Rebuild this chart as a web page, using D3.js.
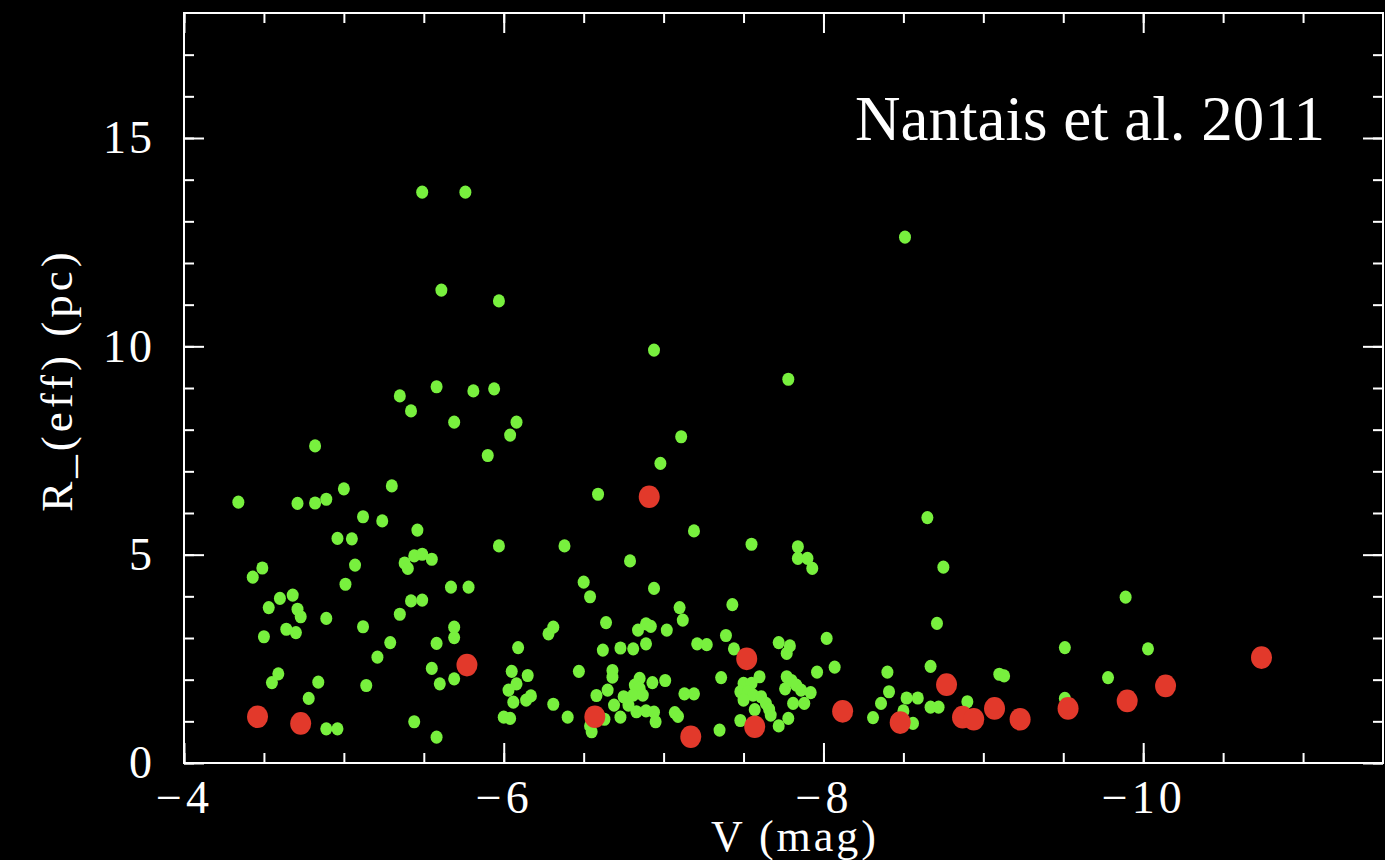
<!DOCTYPE html>
<html>
<head>
<meta charset="utf-8">
<script src="https://cdn.jsdelivr.net/npm/d3@7"></script>
<style>
  html, body { margin: 0; padding: 0; background: #000; }
  svg { display: block; }
</style>
</head>
<body>
<div id="chart"></div>
<script>
// V magnitude vs effective radius
var clusters = [
  [-4.34, 6.26], [-4.71, 6.23], [-4.82, 6.24], [-4.89, 6.33], [-5.00, 6.58], [-5.30, 6.65],
  [-5.12, 5.91], [-5.24, 5.81], [-5.46, 5.59], [-4.96, 5.39], [-5.05, 5.38], [-5.44, 4.97],
  [-5.49, 5.01], [-5.55, 4.89], [-5.07, 4.75], [-5.38, 4.80], [-5.40, 4.67], [-4.49, 4.68],
  [-4.43, 4.46], [-5.01, 4.29], [-5.67, 4.22], [-5.78, 4.22], [-4.60, 3.95], [-4.68, 4.03],
  [-5.42, 3.89], [-5.49, 3.91], [-4.53, 3.73], [-4.71, 3.69], [-4.73, 3.51], [-4.89, 3.47],
  [-5.35, 3.57], [-5.12, 3.27], [-4.64, 3.21], [-4.70, 3.13], [-5.69, 3.26], [-5.69, 3.01],
  [-4.50, 3.03], [-5.29, 2.89], [-5.58, 2.87], [-5.21, 2.54], [-5.55, 2.27], [-4.59, 2.14],
  [-4.55, 1.93], [-4.84, 1.94], [-5.14, 1.86], [-5.60, 1.90], [-5.69, 2.02], [-4.78, 1.55],
  [-4.89, 0.82], [-4.96, 0.82], [-5.44, 0.99], [-5.58, 0.62], [-5.49, 13.70], [-5.76, 13.70],
  [-5.61, 11.35], [-5.97, 11.09], [-5.58, 9.03], [-5.35, 8.81], [-5.81, 8.93], [-5.94, 8.98],
  [-5.42, 8.45], [-5.69, 8.18], [-4.82, 7.61], [-5.90, 7.38], [-8.51, 12.62], [-6.94, 9.91],
  [-7.78, 9.21], [-6.08, 8.18], [-6.04, 7.87], [-7.11, 7.83], [-6.98, 7.19], [-6.59, 6.45],
  [-7.19, 5.57], [-5.97, 5.21], [-6.38, 5.21], [-7.55, 5.25], [-6.79, 4.85], [-6.50, 4.34],
  [-6.54, 3.99], [-6.94, 4.19], [-7.10, 3.73], [-7.12, 3.43], [-7.43, 3.80], [-6.64, 3.37],
  [-6.31, 3.26], [-6.28, 3.10], [-6.84, 3.19], [-6.89, 3.34], [-6.92, 3.28], [-7.02, 3.19],
  [-6.89, 2.86], [-6.09, 2.77], [-6.62, 2.71], [-6.73, 2.76], [-6.81, 2.74], [-7.21, 2.86],
  [-7.27, 2.84], [-7.39, 3.06], [-7.44, 2.74], [-7.72, 2.89], [-7.79, 2.81], [-7.77, 2.63],
  [-6.05, 2.20], [-6.15, 2.10], [-6.08, 1.90], [-6.03, 1.75], [-6.06, 1.46], [-6.14, 1.51],
  [-6.17, 1.61], [-6.47, 2.20], [-6.68, 2.22], [-6.68, 2.06], [-6.65, 1.75], [-6.58, 1.62],
  [-6.31, 1.41], [-6.75, 1.59], [-6.85, 2.03], [-6.82, 1.87], [-6.85, 1.79], [-6.81, 1.63],
  [-6.87, 1.63], [-6.69, 1.39], [-6.78, 1.39], [-6.93, 1.93], [-7.01, 1.98], [-7.13, 1.66],
  [-7.19, 1.66], [-7.36, 2.05], [-7.60, 2.07], [-7.77, 2.07], [-7.80, 1.98], [-7.83, 1.87],
  [-7.50, 1.91], [-7.55, 1.91], [-7.48, 1.71], [-7.53, 1.71], [-7.56, 1.63], [-7.50, 1.51],
  [-7.61, 1.59], [-7.64, 1.43], [-7.66, 1.29], [-7.67, 1.15], [-7.76, 1.78], [-7.81, 1.43],
  [-6.00, 1.10], [-6.04, 1.07], [-6.40, 1.10], [-6.54, 0.89], [-6.55, 0.75], [-6.63, 1.05],
  [-6.73, 1.10], [-6.83, 1.23], [-6.89, 1.25], [-6.94, 1.22], [-6.95, 0.99], [-7.07, 1.21],
  [-7.09, 1.12], [-7.35, 0.79], [-7.48, 1.02], [-7.57, 1.28], [-7.72, 0.89], [-7.78, 1.07],
  [-8.65, 5.89], [-7.84, 5.19], [-7.84, 4.91], [-7.90, 4.91], [-7.93, 4.67], [-8.75, 4.70],
  [-8.71, 3.35], [-8.02, 2.99], [-7.96, 2.18], [-8.07, 2.30], [-8.40, 2.18], [-8.67, 2.32],
  [-9.10, 2.13], [-9.13, 2.09], [-9.51, 2.77], [-8.41, 1.71], [-8.36, 1.43], [-8.52, 1.56],
  [-8.59, 1.56], [-8.67, 1.34], [-8.72, 1.34], [-8.90, 1.47], [-8.31, 1.09], [-8.50, 1.25],
  [-8.56, 0.95], [-9.51, 1.55], [-7.86, 1.75], [-7.92, 1.69], [-7.88, 1.43], [-9.78, 2.05],
  [-9.89, 3.98], [-10.03, 2.74]
];

var highlighted = [
  [-4.46, 1.11], [-4.73, 0.95], [-5.77, 2.35], [-6.57, 1.11], [-6.91, 6.39], [-7.17, 0.63],
  [-7.52, 2.50], [-7.57, 0.87], [-8.12, 1.24], [-8.48, 0.97], [-8.77, 1.88], [-8.87, 1.10],
  [-8.94, 1.05], [-9.07, 1.31], [-9.23, 1.05], [-9.53, 1.31], [-9.90, 1.49], [-10.14, 1.85],
  [-10.74, 2.53]
];

var xDomain = [-4, -11.5];
var yDomain = [0, 18];
var xMajorTicks = [-4, -6, -8, -10];
var yMajorTicks = [0, 5, 10, 15];
var xLabel = 'V (mag)';
var yLabel = 'R_(eff) (pc)';
var title = 'Nantais et al. 2011';

;(function (window, document, undefined) {

  'use strict';

  var W = 1385, H = 860;
  var margin = { top: 13, right: 2, bottom: 97, left: 184 };
  var width = W - margin.left - margin.right;
  var height = H - margin.top - margin.bottom;
  var font = '"Liberation Serif", "DejaVu Serif", serif';

  var svg = d3.select('#chart').append('svg')
    .attr('width', W)
    .attr('height', H)
    .style('background', '#000');

  var g = svg.append('g')
    .attr('transform', 'translate(' + margin.left + ',' + margin.top + ')');

  var x = d3.scaleLinear().domain(xDomain).range([0, width]);
  var y = d3.scaleLinear().domain(yDomain).range([height, 0]);

  var xMinor = d3.range(-4, -11.5, -0.5);
  var yMinor = d3.range(0, 18, 1);

  var fmt = d3.format('d');

  function styleAxis(sel) {
    sel.select('.domain').remove();
    sel.selectAll('line').attr('stroke', '#fff').attr('stroke-width', 2);
    sel.selectAll('text')
      .attr('fill', '#fff')
      .style('font-family', font)
      .style('font-size', '46px');
  }

  // minor ticks on all four sides
  g.append('g').attr('transform', 'translate(0,' + height + ')')
    .call(d3.axisBottom(x).tickValues(xMinor).tickSize(-10).tickFormat(''))
    .call(styleAxis);
  g.append('g')
    .call(d3.axisTop(x).tickValues(xMinor).tickSize(-10).tickFormat(''))
    .call(styleAxis);
  g.append('g')
    .call(d3.axisLeft(y).tickValues(yMinor).tickSize(-10).tickFormat(''))
    .call(styleAxis);
  g.append('g').attr('transform', 'translate(' + width + ',0)')
    .call(d3.axisRight(y).tickValues(yMinor).tickSize(-10).tickFormat(''))
    .call(styleAxis);

  // major ticks, labelled bottom and left
  g.append('g').attr('transform', 'translate(0,' + height + ')')
    .call(d3.axisBottom(x).tickValues(xMajorTicks).tickSizeInner(-20).tickSizeOuter(0)
      .tickPadding(11).tickFormat(fmt))
    .call(styleAxis)
    .call(function (s) { s.selectAll('text').attr('dy', '0.85em').style('letter-spacing', '4px'); });
  g.append('g')
    .call(d3.axisTop(x).tickValues(xMajorTicks).tickSize(-20).tickFormat(''))
    .call(styleAxis);
  g.append('g')
    .call(d3.axisLeft(y).tickValues(yMajorTicks).tickSizeInner(-20).tickSizeOuter(0)
      .tickPadding(29).tickFormat(fmt))
    .call(styleAxis)
    .call(function (s) { s.selectAll('text').style('letter-spacing', '3px'); });
  g.append('g').attr('transform', 'translate(' + width + ',0)')
    .call(d3.axisRight(y).tickValues(yMajorTicks).tickSize(-20).tickFormat(''))
    .call(styleAxis);

  // frame
  g.append('rect')
    .attr('x', 0).attr('y', 0)
    .attr('width', width).attr('height', height)
    .attr('fill', 'none')
    .attr('stroke', '#fff')
    .attr('stroke-width', 2);

  // points
  g.append('g').selectAll('ellipse')
    .data(clusters)
    .enter().append('ellipse')
      .attr('cx', function (d) { return x(d[0]); })
      .attr('cy', function (d) { return y(d[1]); })
      .attr('rx', 6)
      .attr('ry', 6.6)
      .attr('fill', '#78f03e');

  g.append('g').selectAll('ellipse')
    .data(highlighted)
    .enter().append('ellipse')
      .attr('cx', function (d) { return x(d[0]); })
      .attr('cy', function (d) { return y(d[1]); })
      .attr('rx', 10.5)
      .attr('ry', 11.3)
      .attr('fill', '#e2392b');

  // axis titles
  svg.append('text')
    .attr('x', 795)
    .attr('y', 851)
    .attr('text-anchor', 'middle')
    .attr('fill', '#fff')
    .style('font-family', font)
    .style('font-size', '44px')
    .style('letter-spacing', '3px')
    .text(xLabel);

  svg.append('text')
    .attr('transform', 'translate(72,380) rotate(-90)')
    .attr('text-anchor', 'middle')
    .attr('fill', '#fff')
    .style('font-family', font)
    .style('font-size', '45px')
    .style('letter-spacing', '4px')
    .text(yLabel);

  svg.append('text')
    .attr('x', 1325)
    .attr('y', 140)
    .attr('text-anchor', 'end')
    .attr('fill', '#fff')
    .style('font-family', font)
    .style('font-size', '63px')
    .text(title);

})(window, document);
</script>
</body>
</html>
